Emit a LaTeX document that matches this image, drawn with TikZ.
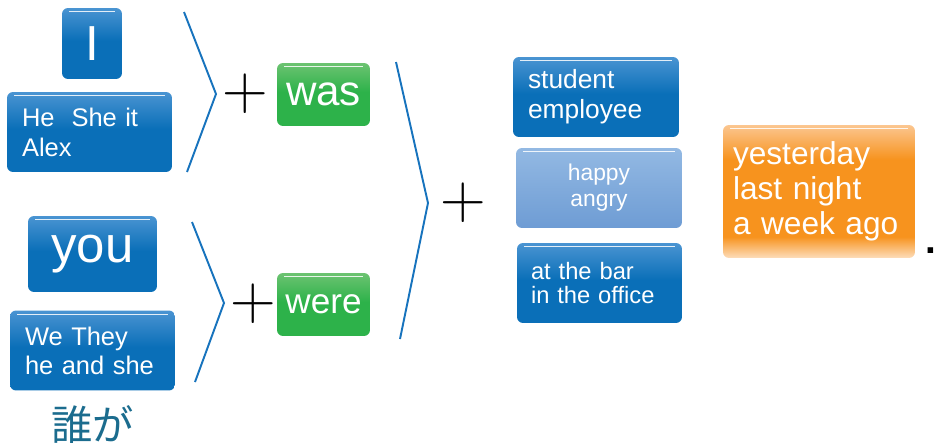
\documentclass[tikz,border=0pt]{standalone}
\usepackage{fontspec}
\setsansfont{Liberation Sans}
\newfontfamily\cjk{Noto Sans CJK JP}
\usetikzlibrary{positioning}

\definecolor{blueTop}{HTML}{4A94D2}
\definecolor{blueDark}{HTML}{0A6FB8}
\definecolor{paleTop}{HTML}{93B9E3}
\definecolor{paleDark}{HTML}{6E9CD4}
\definecolor{greenTop}{HTML}{6CC371}
\definecolor{greenDark}{HTML}{2DB24A}
\definecolor{orangeTop}{HTML}{FBC690}
\definecolor{orangeDark}{HTML}{F7931E}
\definecolor{orangeBot}{HTML}{FDDDBB}
\definecolor{lineBlue}{HTML}{1773BD}
\definecolor{tealText}{HTML}{1B6C8E}

% the box fills the band 25bp--75bp of each shading
\pgfdeclareverticalshading{blueshade}{100bp}{color(0bp)=(blueDark); color(25bp)=(blueDark); color(52bp)=(blueDark); color(75bp)=(blueTop); color(100bp)=(blueTop)}
\pgfdeclareverticalshading{paleshade}{100bp}{color(0bp)=(paleDark); color(25bp)=(paleDark); color(75bp)=(paleTop); color(100bp)=(paleTop)}
\pgfdeclareverticalshading{greenshade}{100bp}{color(0bp)=(greenDark); color(25bp)=(greenDark); color(52bp)=(greenDark); color(75bp)=(greenTop); color(100bp)=(greenTop)}
\pgfdeclareverticalshading{orangeshade}{100bp}{color(0bp)=(orangeBot); color(25bp)=(orangeBot); color(33bp)=(orangeDark); color(62bp)=(orangeDark); color(75bp)=(orangeTop); color(100bp)=(orangeTop)}

\begin{document}
\begin{tikzpicture}[
    x=0.02cm, y=-0.02cm,
    box/.style={rounded corners=0.12cm, inner ysep=0pt, text=white, font=\sffamily,
        path picture={\draw[white, line width=0.5pt, opacity=0.85]
            ([xshift=0.14cm, yshift=-0.07cm]path picture bounding box.north west) --
            ([xshift=-0.14cm, yshift=-0.07cm]path picture bounding box.north east);}},
    pronoun/.style={box, shading=blueshade},
    pale/.style={box, shading=paleshade},
    verb/.style={box, shading=greenshade},
    timebox/.style={box, shading=orangeshade},
    plus/.style={inner sep=0pt, font=\rmfamily\fontsize{36}{36}\selectfont},
    bracket/.style={draw=lineBlue, line width=1.1pt}
]
\useasboundingbox (0,0) rectangle (937,443);

% who
\node[pronoun, minimum width=1.2cm, minimum height=1.42cm, font=\sffamily\fontsize{28}{28}\selectfont] (i) at (92,43.5) {I};
\node[pronoun, text width=2.7cm, inner xsep=0.3cm, minimum height=1.6cm, align=left, font=\sffamily\fontsize{14.5}{17}\selectfont] (he) at (89.5,132) {He\ \ She it\\Alex};
\node[pronoun, minimum width=2.58cm, minimum height=1.52cm, font=\sffamily\fontsize{29}{29}\selectfont] (you) at (92.5,254) {you};
\node[pronoun, text width=2.7cm, inner xsep=0.3cm, minimum height=1.6cm, align=left, font=\sffamily\fontsize{14.5}{16.5}\selectfont] (we) at (92.5,350.5) {We They\\he and she};
\node[below=0.28cm of we, text=tealText, inner sep=0pt, font=\cjk\fontsize{23.5}{23.5}\selectfont] (who) {誰が};

% be
\node[plus] (plus1) at (245,94) {+};
\node[verb, minimum width=1.86cm, minimum height=1.26cm, font=\sffamily\fontsize{24}{24}\selectfont] (was) at (323.5,94.5) {was};
\node[plus] (plus2) at (253,304) {+};
\node[verb, minimum width=1.86cm, minimum height=1.26cm, font=\sffamily\fontsize{20}{20}\selectfont] (were) at (323.5,304.5) {were};

% complement
\node[plus] (plus3) at (463,203) {+};
\node[pronoun, text width=2.72cm, inner xsep=0.3cm, minimum height=1.6cm, align=left, font=\sffamily\fontsize{15}{17}\selectfont] (noun) at (596,97) {student\\employee};
\node[pale, text width=2.72cm, inner xsep=0.3cm, minimum height=1.6cm, align=center, font=\sffamily\fontsize{13}{14.7}\selectfont] (adj) at (599,188) {happy\\angry};
\node[pronoun, text width=2.74cm, inner xsep=0.28cm, minimum height=1.6cm, align=left, font=\sffamily\fontsize{13.5}{14.2}\selectfont] (place) at (599.5,283) {at the bar\\in the office};

% when
\node[timebox, text width=3.44cm, inner xsep=0.2cm, minimum height=2.66cm, align=left, font=\sffamily\fontsize{18}{20}\selectfont] (time) at (819,191.5) {yesterday\\last night\\a week ago};
\node[anchor=base west, inner sep=0pt, font=\sffamily\bfseries\fontsize{22}{22}\selectfont] (stop) at (925,253) {.};

% brackets
\draw[bracket] (184,12) -- (216,94) -- (187,172);
\draw[bracket] (192,222) -- (224,303) -- (195,382);
\draw[bracket] (396,62) -- (428,203) -- (400,339);
\end{tikzpicture}
\end{document}
